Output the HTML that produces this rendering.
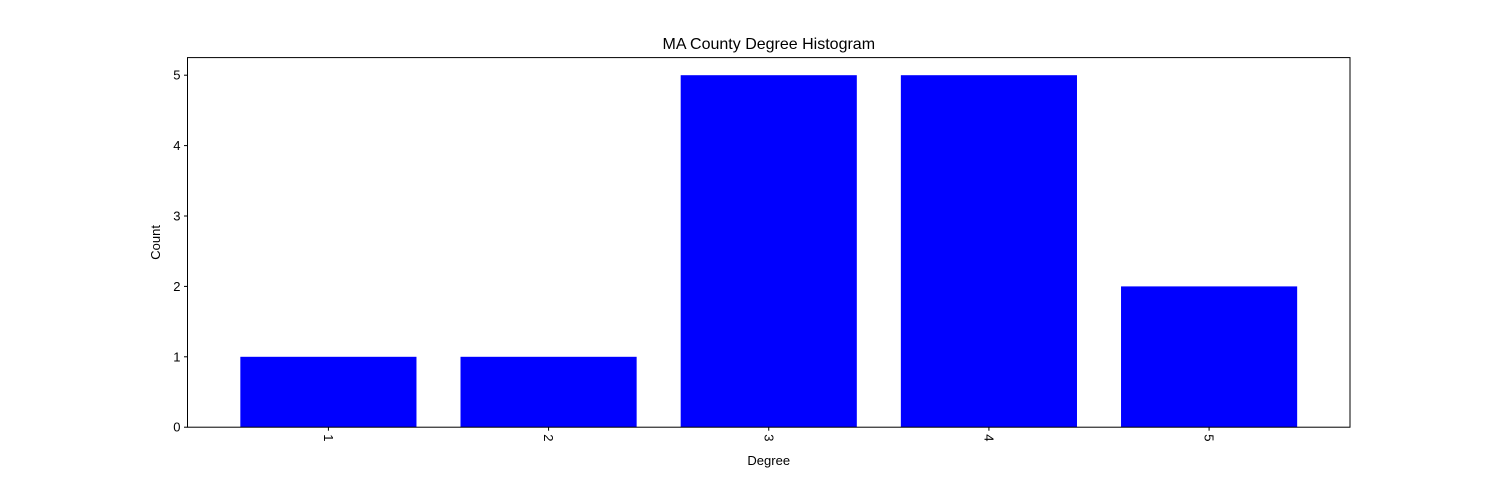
<!DOCTYPE html>
<html><head><meta charset="utf-8"><style>
html,body{margin:0;padding:0;background:#fff;}
svg text{font-family:"Liberation Sans","DejaVu Sans",sans-serif;fill:#000;}
</style></head><body>
<svg id="chart" width="1500" height="480" xmlns="http://www.w3.org/2000/svg">
<rect width="1500" height="480" fill="#fff"/>
<text x="768.75" y="49" font-size="16" text-anchor="middle">MA County Degree Histogram</text>
<g id="bars"></g>
<g id="axes"></g>
<text x="768.75" y="465" font-size="13" text-anchor="middle">Degree</text>
<text transform="translate(160,242.4) rotate(-90)" font-size="13" text-anchor="middle">Count</text>
</svg>
<script>
const categories = [1, 2, 3, 4, 5];
const counts = [1, 1, 5, 5, 2];
const yTicks = [0, 1, 2, 3, 4, 5];
const xTickLabels = ["1", "2", "3", "4", "5"];

const L = 187.5, R = 1350, T = 57.6, B = 427.2;
const xMin = 0.36, xMax = 5.64, yMin = 0, yMax = 5.25;
const xs = v => L + (v - xMin) / (xMax - xMin) * (R - L);
const ys = v => B - (v - yMin) / (yMax - yMin) * (B - T);
const NS = "http://www.w3.org/2000/svg";
const bars = document.getElementById('bars');
const axes = document.getElementById('axes');
function mk(tag, attrs, parent) {
  const e = document.createElementNS(NS, tag);
  for (const k in attrs) e.setAttribute(k, attrs[k]);
  parent.appendChild(e);
  return e;
}
categories.forEach((c, i) => {
  const x0 = xs(c - 0.4), x1 = xs(c + 0.4);
  const r = mk('rect', {x: x0, y: ys(counts[i]), width: x1 - x0, height: ys(0) - ys(counts[i]), fill: '#0000ff'}, bars);
  
  
});
const frame = mk('rect', {x: L, y: T, width: R - L, height: B - T, fill: 'none', stroke: '#000', 'stroke-width': 1}, axes);


yTicks.forEach(v => {
  const y = ys(v);
  const t = mk('line', {x1: L - 3.5, x2: L, y1: y, y2: y, stroke: '#000', 'stroke-width': 1}, axes);
  
  
  const lb = mk('text', {x: L - 7, y: y + 4.5, 'font-size': 13, 'text-anchor': 'end'}, axes);
  lb.textContent = String(v);
  
  
});
categories.forEach((c, i) => {
  const x = xs(c);
  const t = mk('line', {x1: x, x2: x, y1: B, y2: B + 3.5, stroke: '#000', 'stroke-width': 1}, axes);
  
  
  const lb = mk('text', {transform: `translate(${x - 4.5},${B + 7}) rotate(90)`, 'font-size': 13, 'text-anchor': 'start'}, axes);
  lb.textContent = xTickLabels[i];
  
  
});
</script>
</body></html>
